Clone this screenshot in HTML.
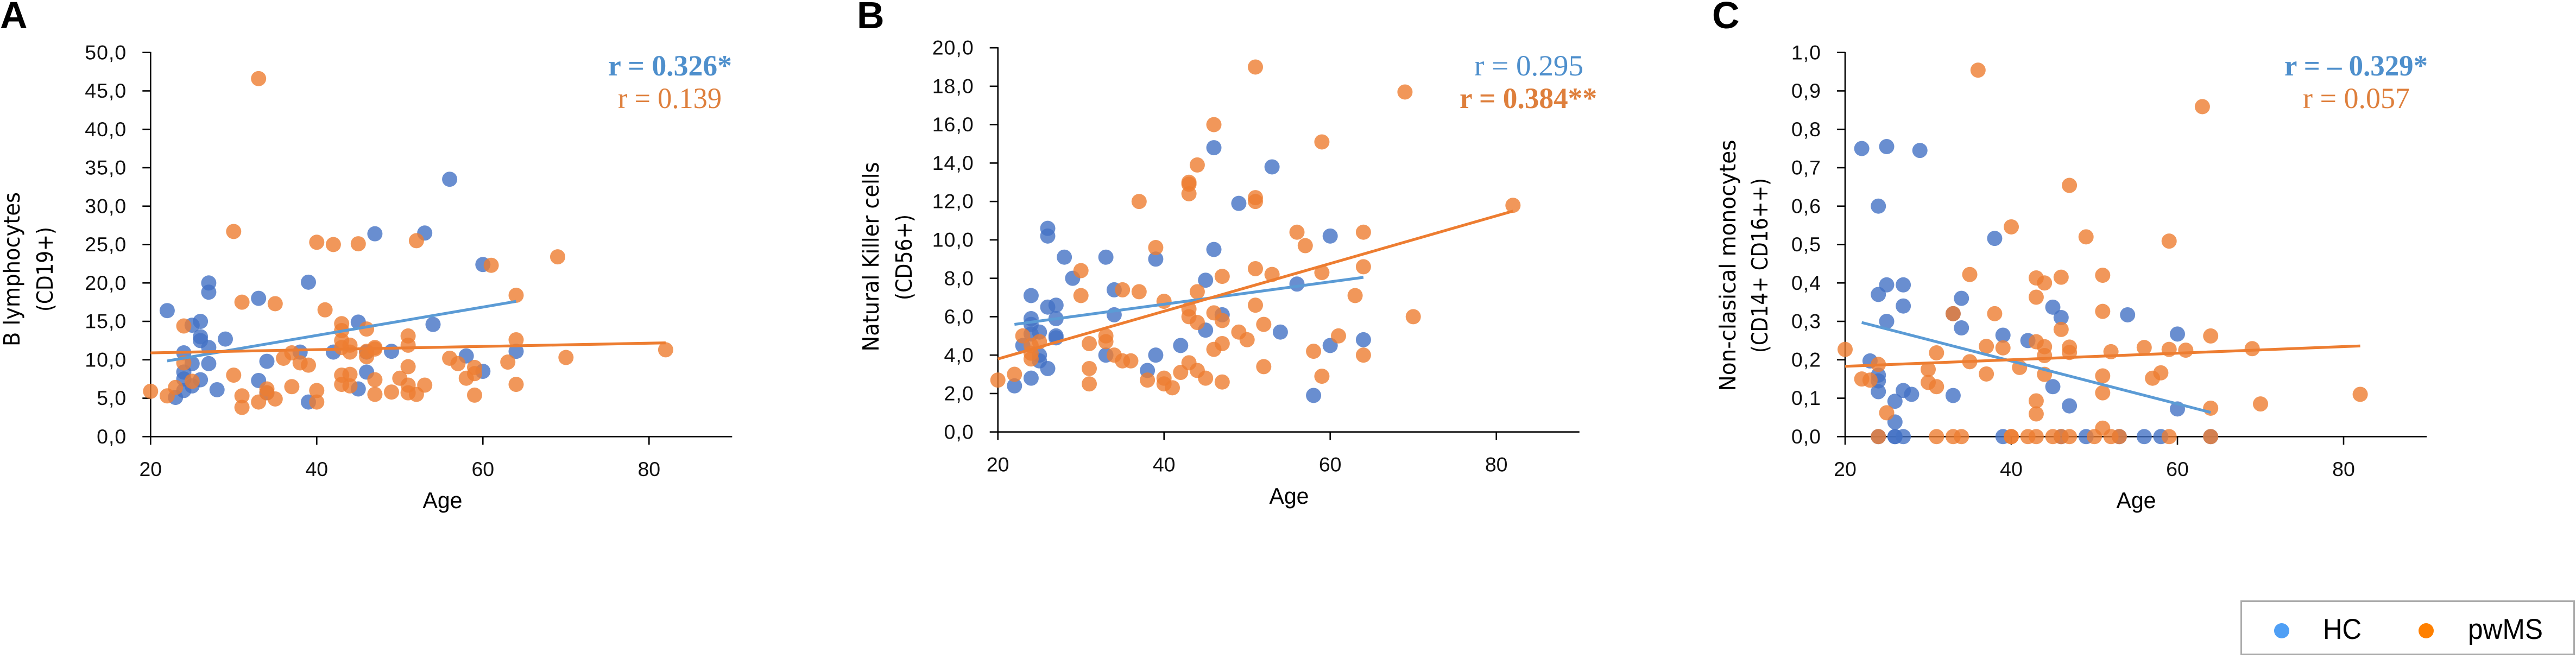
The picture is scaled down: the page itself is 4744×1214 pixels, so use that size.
<!DOCTYPE html>
<html lang="en">
<head>
<meta charset="utf-8">
<title>Correlation of immune cell populations with age</title>
<style>
html,body{margin:0;padding:0;background:#fff;}
body{width:4744px;height:1214px;overflow:hidden;}
svg{display:block;}
text{font-family:"Liberation Sans",sans-serif;}
.serif{font-family:"Liberation Serif",serif;font-size:54px;}
.panel{font-size:70px;font-weight:bold;fill:#000;}
.ytitle{font-family:"DejaVu Sans",sans-serif;font-size:41px;fill:#000;}
.axt{font-size:42px;fill:#000;}
</style>
</head>
<body>
<svg id="figure" xmlns="http://www.w3.org/2000/svg" width="4744" height="1214" viewBox="0 0 4744 1214">
  <rect width="4744" height="1214" fill="#fff"/>

  <g id="chart-a">
    <text class="panel" x="0" y="52">A</text>
    <text class="ytitle" transform="translate(36,496) rotate(-90)" text-anchor="middle" textLength="284" lengthAdjust="spacingAndGlyphs">B lymphocytes</text>
    <text class="ytitle" transform="translate(97,496) rotate(-90)" text-anchor="middle" textLength="156" lengthAdjust="spacingAndGlyphs">(CD19+)</text>
    <text class="axt" x="815" y="936" text-anchor="middle" textLength="73" lengthAdjust="spacingAndGlyphs">Age</text>
    <text class="serif" x="1120" y="139" font-weight="bold" fill="#4E8FCC" textLength="228" lengthAdjust="spacingAndGlyphs">r = 0.326*</text>
    <text class="serif" x="1138" y="199" fill="#DE7F3C" textLength="191" lengthAdjust="spacingAndGlyphs">r = 0.139</text>
  </g>

  <g id="chart-b">
    <text class="panel" x="1578" y="52">B</text>
    <text class="ytitle" transform="translate(1618,473) rotate(-90)" text-anchor="middle" textLength="349" lengthAdjust="spacingAndGlyphs">Natural Killer cells</text>
    <text class="ytitle" transform="translate(1679,474) rotate(-90)" text-anchor="middle" textLength="158" lengthAdjust="spacingAndGlyphs">(CD56+)</text>
    <text class="axt" x="2374" y="928" text-anchor="middle" textLength="73" lengthAdjust="spacingAndGlyphs">Age</text>
    <text class="serif" x="2715" y="139" fill="#4E8FCC" textLength="201" lengthAdjust="spacingAndGlyphs">r = 0.295</text>
    <text class="serif" x="2688" y="199" font-weight="bold" fill="#DE7F3C" textLength="253" lengthAdjust="spacingAndGlyphs">r = 0.384**</text>
  </g>

  <g id="chart-c">
    <text class="panel" x="3153" y="52">C</text>
    <text class="ytitle" transform="translate(3196,489) rotate(-90)" text-anchor="middle" textLength="463" lengthAdjust="spacingAndGlyphs">Non-clasical monocytes</text>
    <text class="ytitle" transform="translate(3255,489) rotate(-90)" text-anchor="middle" textLength="322" lengthAdjust="spacingAndGlyphs">(CD14+ CD16++)</text>
    <text class="axt" x="3934" y="936" text-anchor="middle" textLength="73" lengthAdjust="spacingAndGlyphs">Age</text>
    <text class="serif" x="4207" y="139" font-weight="bold" fill="#4E8FCC" textLength="264" lengthAdjust="spacingAndGlyphs">r = – 0.329*</text>
    <text class="serif" x="4241" y="199" fill="#DE7F3C" textLength="197" lengthAdjust="spacingAndGlyphs">r = 0.057</text>
  </g>

  <g id="legend">
    <rect x="4127.5" y="1107.5" width="613" height="98" fill="#fff" stroke="#ABABAB" stroke-width="3"/>
    <circle cx="4202" cy="1162" r="14" fill="#4F9FF5"/>
    <text x="4278" y="1177" font-size="53" fill="#000" textLength="71" lengthAdjust="spacingAndGlyphs">HC</text>
    <circle cx="4468" cy="1162" r="14" fill="#FF8000"/>
    <text x="4545" y="1177" font-size="53" fill="#000" textLength="138" lengthAdjust="spacingAndGlyphs">pwMS</text>
  </g>
</svg>

<script>
// Shared axis data
const xTickValues = [20, 40, 60, 80];
const xDomain = [20, 90];

// Panel A: B lymphocytes (CD19+)
const aYTickLabels = ["0,0","5,0","10,0","15,0","20,0","25,0","30,0","35,0","40,0","45,0","50,0"];
const aHcAges = [22,23,24,24,24,24,25,25,25,26,26,26,26,27,27,27,27,28,29,33,33,34,34,38,39,39,42,45,45,46,46,47,49,53,54,56,58,60,60,64];
const aHcValues = [16.4,5.1,10.9,8.4,7.5,6.0,14.5,9.5,6.6,15.0,13.0,12.5,7.4,20.0,18.8,11.6,9.5,6.1,12.7,18.0,7.3,9.8,5.7,11.0,20.1,4.5,11.0,14.9,6.2,8.4,11.0,26.4,11.1,26.5,14.6,33.5,10.5,22.4,8.5,11.1];
const aMsAges = [20,22,23,24,24,25,30,30,31,31,31,33,33,34,34,35,35,36,37,37,38,39,40,40,40,41,42,43,43,43,43,43,43,44,44,44,44,45,46,46,46,47,47,47,47,49,50,51,51,51,51,51,52,52,53,56,57,58,59,59,59,61,63,64,64,64,69,70,82];
const aMsValues = [5.9,5.3,6.4,14.4,9.6,7.2,26.7,8.0,17.5,5.3,3.8,46.6,4.5,6.2,5.7,17.3,4.9,10.2,10.9,6.5,9.6,9.3,25.3,6.0,4.5,16.5,25.0,14.7,13.8,12.5,11.6,8.0,6.8,11.9,11.0,8.1,6.6,25.1,14.0,11.1,10.4,11.6,11.4,7.4,5.5,5.8,7.6,13.1,11.9,9.1,6.7,5.7,25.5,5.5,6.7,10.2,9.5,7.6,9.0,8.2,5.4,22.3,9.7,18.4,12.6,6.8,23.4,10.3,11.3];
const aHcTrendAges = [22, 64];
const aHcTrendValues = [9.85, 17.6];
const aMsTrendAges = [20, 82];
const aMsTrendValues = [10.9, 12.2];

// Panel B: Natural Killer cells (CD56+)
const bYTickLabels = ["0,0","2,0","4,0","6,0","8,0","10,0","12,0","14,0","16,0","18,0","20,0"];
const bHcAges = [22,23,24,24,24,24,24,25,25,25,26,26,26,26,27,27,27,27,28,29,33,33,34,34,38,39,39,42,45,45,46,46,47,49,53,54,56,58,60,60,64];
const bHcValues = [2.4,4.5,7.1,5.9,5.6,2.8,5.1,5.2,4.0,3.7,10.6,10.2,6.5,3.3,6.6,5.9,5.0,4.9,9.1,8.0,9.1,4.0,7.4,6.1,3.2,9.0,4.0,4.5,7.9,5.3,14.8,9.5,6.1,11.9,13.8,5.2,7.7,1.9,10.2,4.5,4.8];
const bMsAges = [20,22,23,24,24,24,25,30,30,31,31,31,33,33,34,35,35,36,37,37,38,39,40,40,40,41,42,43,43,43,43,43,43,44,44,44,44,45,46,46,46,47,47,47,47,49,50,51,51,51,51,51,52,52,53,56,57,58,59,59,59,61,63,64,64,64,69,70,82];
const bMsValues = [2.7,3.0,5.0,4.5,4.1,3.8,4.7,8.4,7.1,4.6,3.3,2.5,5.0,4.7,4.0,7.4,3.7,3.7,12.0,7.3,2.7,9.6,6.8,2.8,2.5,2.3,3.1,13.0,12.9,12.4,6.4,6.0,3.6,13.9,7.3,5.7,3.2,2.8,16.0,6.2,4.3,8.1,5.8,4.6,2.6,5.2,4.8,19.0,12.2,12.0,8.5,6.6,5.6,3.4,8.2,10.4,9.7,4.2,15.1,8.3,2.9,5.0,7.1,10.4,8.6,4.0,17.7,6.0,11.8];
const bHcTrendAges = [22, 64];
const bHcTrendValues = [5.6, 8.05];
const bMsTrendAges = [20, 82];
const bMsTrendValues = [3.8, 11.5];

// Panel C: Non-classical monocytes (CD14+ CD16++)
const cYTickLabels = ["0,0","0,1","0,2","0,3","0,4","0,5","0,6","0,7","0,8","0,9","1,0"];
const cHcAges = [22,23,24,24,24,24,24,24,25,25,25,26,26,26,26,27,27,27,27,28,29,33,33,34,34,38,39,39,42,45,45,46,46,47,49,53,54,56,58,60,60,64];
const cHcValues = [0.75,0.197,0.6,0.37,0.16,0.145,0.117,0,0.755,0.395,0.3,0.092,0.038,0,0,0.395,0.34,0.12,0,0.11,0.745,0.32,0.107,0.36,0.283,0.516,0.264,0,0.25,0.337,0.13,0.31,0,0.08,0,0,0.317,0,0,0.267,0.072,0];
const cMsAges = [20,22,23,24,24,25,30,30,31,31,31,33,33,34,35,35,36,37,37,38,39,40,40,40,41,42,43,43,43,43,43,43,44,44,44,44,45,46,46,46,47,47,47,47,49,50,51,51,51,51,51,52,52,53,56,57,58,59,59,59,61,63,64,64,64,69,70,82];
const cMsValues = [0.227,0.15,0.147,0.188,0,0.062,0.175,0.141,0.218,0.13,0,0.32,0,0,0.422,0.195,0.954,0.235,0.163,0.32,0.231,0.546,0,0,0.18,0,0.413,0.363,0.247,0.093,0.059,0,0.4,0.234,0.211,0.162,0,0.415,0.279,0,0.654,0.233,0.219,0,0.52,0,0.42,0.326,0.158,0.114,0.022,0.221,0,0,0.232,0.152,0.166,0.509,0.227,0,0.225,0.859,0.262,0.074,0,0.229,0.085,0.11];
const cHcTrendAges = [22, 64];
const cHcTrendValues = [0.297, 0.063];
const cMsTrendAges = [20, 82];
const cMsTrendValues = [0.183, 0.236];

const SVG_NS = "http://www.w3.org/2000/svg";

function make(tag, attrs, parent) {
  const el = document.createElementNS(SVG_NS, tag);
  for (const k in attrs) el.setAttribute(k, attrs[k]);
  parent.appendChild(el);
  return el;
}

function drawChart(id, cfg) {
  const host = document.getElementById(id);
  const axisColor = "#000";
  const pxPerYear = 15.3;
  const sx = v => cfg.x0 + (v - xDomain[0]) * pxPerYear;
  const sy = v => cfg.y0 - (v / cfg.yMax) * 707.6;
  const parseTick = s => parseFloat(s.replace(",", "."));
  const yTop = sy(cfg.yMax);
  const xEnd = sx(xDomain[1]);

  const yAxis = make("line", {x1: cfg.x0, x2: cfg.x0, y1: yTop - 1, y2: cfg.y0, stroke: axisColor, "stroke-width": 2.6}, host);
  
  
  const xAxis = make("line", {x1: cfg.x0, x2: xEnd, y1: cfg.y0, y2: cfg.y0, stroke: axisColor, "stroke-width": 2.6}, host);
  
  

  cfg.yLabels.forEach(label => {
    const v = parseTick(label);
    const tick = make("line", {x1: cfg.x0 - 15, x2: cfg.x0, y1: sy(v), y2: sy(v), stroke: axisColor, "stroke-width": 2.6}, host);
    
    
    const t = make("text", {x: cfg.x0 - 44, y: sy(v) + 12.6, "text-anchor": "end", "font-size": 37.5, "letter-spacing": 1, fill: "#111"}, host);
    
    
    t.textContent = label;
  });

  xTickValues.forEach(v => {
    const tick = make("line", {x1: sx(v), x2: sx(v), y1: cfg.y0, y2: cfg.y0 + 15, stroke: axisColor, "stroke-width": 2.6}, host);
    
    
    const t = make("text", {x: sx(v), y: cfg.y0 + 72.7, "text-anchor": "middle", "font-size": 37.5, fill: "#111"}, host);
    
    
    t.textContent = String(v);
  });

  cfg.hcAges.forEach((age, i) => {
    const c = make("circle", {cx: sx(age), cy: sy(cfg.hcValues[i]), r: 14, fill: "#4472C4", "fill-opacity": 0.8}, host);
    
    
  });
  cfg.msAges.forEach((age, i) => {
    const c = make("circle", {cx: sx(age), cy: sy(cfg.msValues[i]), r: 14, fill: "#ED7D31", "fill-opacity": 0.8}, host);
    
    
  });

  const hcLine = make("line", {x1: sx(cfg.hcTrendAges[0]), y1: sy(cfg.hcTrendValues[0]), x2: sx(cfg.hcTrendAges[1]), y2: sy(cfg.hcTrendValues[1]), stroke: "#5B9BD5", "stroke-width": 5.2}, host);
  
  
  const msLine = make("line", {x1: sx(cfg.msTrendAges[0]), y1: sy(cfg.msTrendValues[0]), x2: sx(cfg.msTrendAges[1]), y2: sy(cfg.msTrendValues[1]), stroke: "#ED7D31", "stroke-width": 5.2}, host);
  
  
}

drawChart("chart-a", {x0: 277.3, y0: 804.3, yMax: 50, yLabels: aYTickLabels,
  hcAges: aHcAges, hcValues: aHcValues, msAges: aMsAges, msValues: aMsValues,
  hcTrendAges: aHcTrendAges, hcTrendValues: aHcTrendValues, msTrendAges: aMsTrendAges, msTrendValues: aMsTrendValues});
drawChart("chart-b", {x0: 1837.7, y0: 795.7, yMax: 20, yLabels: bYTickLabels,
  hcAges: bHcAges, hcValues: bHcValues, msAges: bMsAges, msValues: bMsValues,
  hcTrendAges: bHcTrendAges, hcTrendValues: bHcTrendValues, msTrendAges: bMsTrendAges, msTrendValues: bMsTrendValues});
drawChart("chart-c", {x0: 3398, y0: 804.3, yMax: 1, yLabels: cYTickLabels,
  hcAges: cHcAges, hcValues: cHcValues, msAges: cMsAges, msValues: cMsValues,
  hcTrendAges: cHcTrendAges, hcTrendValues: cHcTrendValues, msTrendAges: cMsTrendAges, msTrendValues: cMsTrendValues});
</script>
</body>
</html>
